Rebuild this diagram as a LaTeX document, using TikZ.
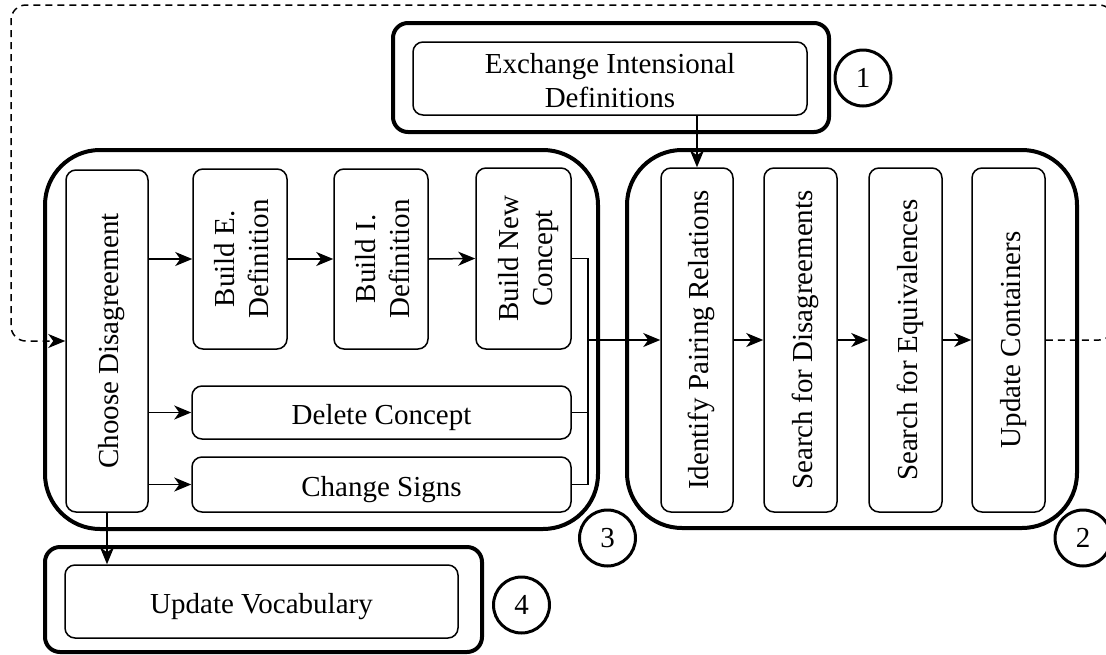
\documentclass[tikz,border=0pt]{standalone}
\usepackage{fontspec}
\setmainfont{Liberation Serif}
\usetikzlibrary{arrows.meta}

% text block lowered a little inside its box, optionally turned upright
\newcommand{\boxtxt}[1]{\raisebox{-5pt}[\height][\depth]{\begin{tabular}{@{}c@{}}#1\end{tabular}}}
\newcommand{\uptxt}[1]{\rotatebox{90}{\boxtxt{#1}}}

\begin{document}
\begin{tikzpicture}[x=1pt,y=-1pt,
  font=\fontsize{29}{34}\selectfont,
  group/.style={draw, line width=4pt, rounded corners=#1, inner sep=0pt},
  group/.default=15pt,
  stepbox/.style={draw, line width=1.5pt, rounded corners=10pt, inner sep=0pt},
  num/.style={draw, circle, line width=3pt, minimum size=56pt, inner sep=0pt},
  flow/.style={line width=1.5pt, -{Stealth[length=17pt,width=14pt,inset=5pt]}},
  merge/.style={line width=1.2pt},
  feedback/.style={line width=1.5pt, dash pattern=on 7pt off 5pt, rounded corners=15pt,
               -{Stealth[length=17pt,width=14pt,inset=5pt]}}
]
\useasboundingbox (0,0) rectangle (1106,654);
\clip (0,0) rectangle (1106,654);

% --- group 1: exchange of definitions
\node[group, minimum width=436pt, minimum height=109pt] (g1) at (611,77.5) {};
\node[stepbox, minimum width=394pt, minimum height=73pt] (exch) at (610,78.5)
  {\boxtxt{Exchange Intensional\\Definitions}};
\node[num] (n1) at (863,78) {1};

% --- group 3: disagreement resolution
\node[group=55pt, minimum width=553pt, minimum height=379pt] (g3) at (321.5,339.5) {};
\node[stepbox, minimum width=82pt, minimum height=342pt] (choose) at (107,341)
  {\uptxt{Choose Disagreement}};
\node[stepbox, minimum width=94pt, minimum height=180pt] (bE) at (240,259)
  {\uptxt{Build E.\\Definition}};
\node[stepbox, minimum width=94pt, minimum height=180pt] (bI) at (381,259)
  {\uptxt{Build I.\\Definition}};
\node[stepbox, minimum width=95pt, minimum height=181pt] (bN) at (523.5,258.5)
  {\uptxt{Build New\\Concept}};
\node[stepbox, minimum width=379pt, minimum height=53pt] (del) at (381.5,412.5)
  {\boxtxt{Delete Concept}};
\node[stepbox, minimum width=379pt, minimum height=55pt] (chg) at (381.5,484.5)
  {\boxtxt{Change Signs}};
\node[num] (n3) at (607.5,538) {3};

% --- group 2: alignment pipeline
\node[group=55pt, minimum width=450pt, minimum height=378pt] (g2) at (852,339) {};
\node[stepbox, minimum width=72pt, minimum height=344pt] (idf) at (697,340)
  {\uptxt{Identify Pairing Relations}};
\node[stepbox, minimum width=73pt, minimum height=344pt] (sdis) at (800.5,340)
  {\uptxt{Search for Disagreements}};
\node[stepbox, minimum width=73pt, minimum height=344pt] (seq) at (905.5,340)
  {\uptxt{Search for Equivalences}};
\node[stepbox, minimum width=73pt, minimum height=344pt] (uc) at (1008.5,340)
  {\uptxt{Update Containers}};
\node[num] (n2) at (1083,538) {2};

% --- group 4: vocabulary
\node[group, minimum width=437pt, minimum height=105pt] (g4) at (263.5,599.5) {};
\node[stepbox, minimum width=393pt, minimum height=73pt] (uv) at (261.5,601.5)
  {\boxtxt{Update Vocabulary}};
\node[num] (n4) at (521.5,605) {4};

% --- connectors
\draw[flow] (idf.north |- exch.south) -- (idf.north);
\draw[flow] (choose.east |- bE.west) -- (bE.west);
\draw[flow] (bE.east) -- (bI.west);
\draw[flow] (bI.east) -- (bN.west);
\draw[flow] (choose.east |- del.west) -- (del.west);
\draw[flow] (choose.east |- chg.west) -- (chg.west);
\draw[flow] (choose.south) -- (choose.south |- uv.north);

\coordinate (j) at (588,340);
\draw[merge] (bN.east) -| (j);
\draw[merge] (del.east) -| (j);
\draw[merge] (chg.east) -| (j);
\draw[flow] (j) -- (idf.west);
\draw[flow] (idf.east) -- (sdis.west);
\draw[flow] (sdis.east) -- (seq.west);
\draw[flow] (seq.east) -- (uc.west);

% feedback loop back to the choice of disagreement
\draw[feedback] (uc.east) -- (1114,340) -- (1114,5) -- (11,5) -- (11,341) -- (choose.west);
\end{tikzpicture}
\end{document}
